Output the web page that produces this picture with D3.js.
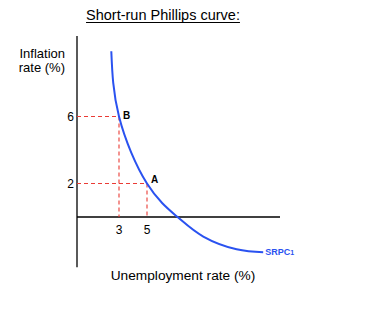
<!DOCTYPE html>
<html>
<head>
<meta charset="utf-8">
<script src="https://cdn.jsdelivr.net/npm/d3@7"></script>
<style>
  body { margin: 0; background: #fff; }
  text { font-family: "Liberation Sans", Arial, sans-serif; }
</style>
</head>
<body>
<div id="chart"></div>
<script>
// curve: [unemployment %, inflation %]
const srpc = [
  [2.45, 9.9], [3.0, 6.0], [5.0, 2.0],
  [7.18, 0], [9.02, -1.17], [11.4, -1.93], [13.3, -2.1]
];
const points = [
  { name: "B", u: 3, inf: 6 },
  { name: "A", u: 5, inf: 2 }
];
const xTicks = [3, 5];
const yTicks = [2, 6];

const width = 365, height = 310;

const svg = d3.select("#chart").append("svg")
  .attr("width", width)
  .attr("height", height);

const x = d3.scaleLinear().domain([0, 15]).range([77, 287]);
const y = d3.scaleLinear().domain([-3, 11]).range([267.25, 32.75]);

// title
const title = svg.append("text")
  .attr("x", 163).attr("y", 20)
  .attr("text-anchor", "middle")
  .attr("font-size", 14.5)
  .text("Short-run Phillips curve:");
const tb = title.node().getBBox();
svg.append("line")
  .attr("x1", tb.x).attr("x2", tb.x + tb.width)
  .attr("y1", 22.5).attr("y2", 22.5)
  .attr("stroke", "#000").attr("stroke-width", 1);

// axis titles
svg.append("text")
  .attr("x", 65).attr("y", 58)
  .attr("text-anchor", "end").attr("font-size", 13)
  .text("Inflation");
svg.append("text")
  .attr("x", 65).attr("y", 72)
  .attr("text-anchor", "end").attr("font-size", 13)
  .text("rate (%)");
svg.append("text")
  .attr("x", 183).attr("y", 280)
  .attr("text-anchor", "middle").attr("font-size", 13.7)
  .text("Unemployment rate (%)");

// axes
svg.append("line")
  .attr("x1", x(0)).attr("x2", x(0))
  .attr("y1", y(-3)).attr("y2", y(10.8))
  .attr("stroke", "#000").attr("stroke-width", 1.3);
svg.append("line")
  .attr("x1", x(0)).attr("x2", x(14.5))
  .attr("y1", y(0)).attr("y2", y(0))
  .attr("stroke", "#000").attr("stroke-width", 1.3);

// dashed guides
const red = "#ea3b35";
points.forEach(p => {
  svg.append("line")
    .attr("x1", x(0)).attr("x2", x(p.u))
    .attr("y1", y(p.inf)).attr("y2", y(p.inf))
    .attr("stroke", red).attr("stroke-width", 1.1).attr("stroke-dasharray", "4,3");
  svg.append("line")
    .attr("x1", x(p.u)).attr("x2", x(p.u))
    .attr("y1", y(p.inf)).attr("y2", y(0))
    .attr("stroke", red).attr("stroke-width", 1.1).attr("stroke-dasharray", "4,3");
});

// tick labels
svg.selectAll(".ytick").data(yTicks).enter().append("text")
  .attr("x", 74).attr("y", d => y(d) + 4.5)
  .attr("text-anchor", "end").attr("font-size", 12)
  .text(d => d);
svg.selectAll(".xtick").data(xTicks).enter().append("text")
  .attr("x", d => x(d)).attr("y", 233.5)
  .attr("text-anchor", "middle").attr("font-size", 12)
  .text(d => d);

// curve
const line = d3.line()
  .x(d => x(d[0]))
  .y(d => y(d[1]))
  .curve(d3.curveNatural);
svg.append("path")
  .datum(srpc)
  .attr("d", line)
  .attr("fill", "none")
  .attr("stroke", "#2a52f0")
  .attr("stroke-width", 2);

// point labels
svg.selectAll(".plabel").data(points).enter().append("text")
  .attr("x", d => x(d.u) + 4)
  .attr("y", d => y(d.inf) + (d.name === "B" ? 2 : -1))
  .attr("font-size", 10).attr("font-weight", "bold")
  .text(d => d.name);

// curve label
const lbl = svg.append("text")
  .attr("x", x(13.3) + 2).attr("y", y(-2.1) + 2.5)
  .attr("font-size", 9).attr("font-weight", "bold")
  .attr("fill", "#2a52f0");
lbl.append("tspan").text("SRPC");
lbl.append("tspan").attr("font-size", 7).text("1");
</script>
</body>
</html>
